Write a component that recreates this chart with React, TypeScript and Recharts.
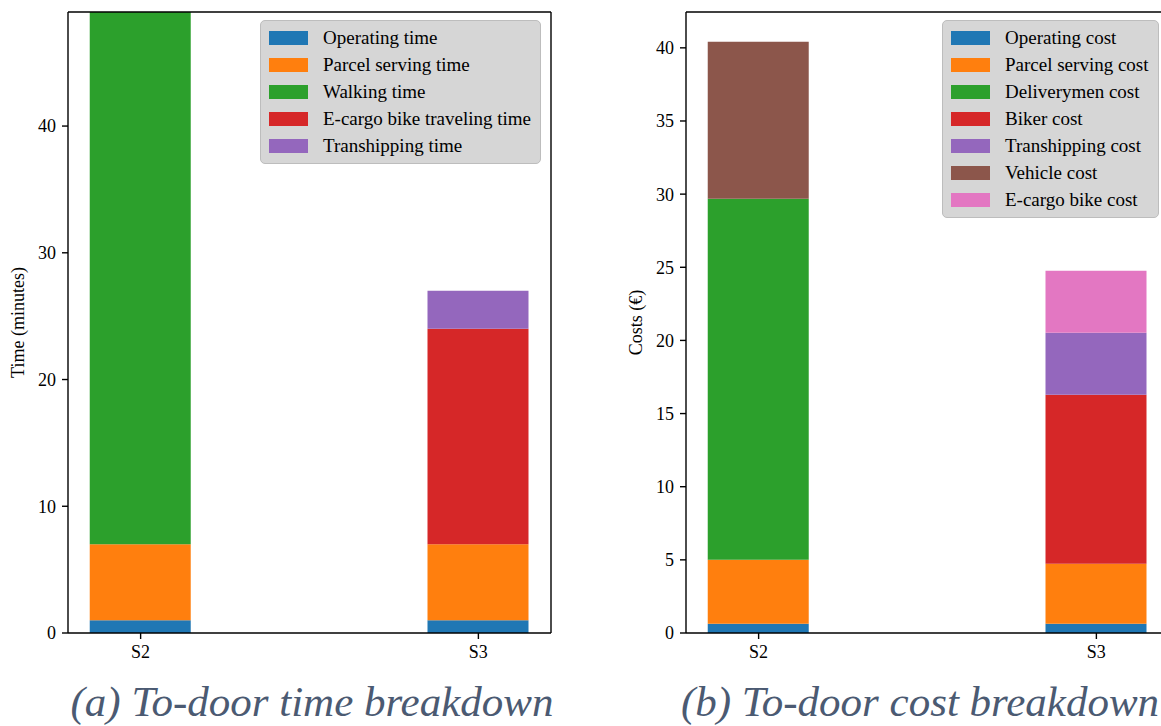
import React from 'react';
import {
  BarChart,
  Bar,
  XAxis,
  YAxis,
  Legend,
} from 'recharts';

// scenarios on the x axis
const categories = ['S2', 'S3'];

// (a) to-door time breakdown, minutes
const operatingTime = [1, 1];
const parcelServingTime = [6, 6];
const walkingTime = [42, 0];
const eCargoTravelTime = [0, 17];
const transhippingTime = [0, 3];
const timeTicks = [0, 10, 20, 30, 40];

// (b) to-door cost breakdown, euro
const operatingCost = [0.64, 0.64];
const parcelServingCost = [4.37, 4.1];
const deliverymenCost = [24.68, 0];
const bikerCost = [0, 11.55];
const transhippingCost = [0, 4.24];
const vehicleCost = [10.73, 0];
const eCargoBikeCost = [0, 4.23];
const costTicks = [0, 5, 10, 15, 20, 25, 30, 35, 40];

const FONT = '"Liberation Serif", "Times New Roman", serif';
const X_DOMAIN: [number, number] = [-0.215, 1.215];
const PLOT_W = 483;
const BAR_PX = Math.round((0.3 * PLOT_W) / (X_DOMAIN[1] - X_DOMAIN[0]));

const timeSeries = [
  { key: 'operating', name: 'Operating time', color: '#1f77b4', values: operatingTime },
  { key: 'parcel', name: 'Parcel serving time', color: '#ff7f0e', values: parcelServingTime },
  { key: 'walking', name: 'Walking time', color: '#2ca02c', values: walkingTime },
  { key: 'ecargo', name: 'E-cargo bike traveling time', color: '#d62728', values: eCargoTravelTime },
  { key: 'tranship', name: 'Transhipping time', color: '#9467bd', values: transhippingTime },
];

const costSeries = [
  { key: 'operating', name: 'Operating cost', color: '#1f77b4', values: operatingCost },
  { key: 'parcel', name: 'Parcel serving cost', color: '#ff7f0e', values: parcelServingCost },
  { key: 'delivery', name: 'Deliverymen cost', color: '#2ca02c', values: deliverymenCost },
  { key: 'biker', name: 'Biker cost', color: '#d62728', values: bikerCost },
  { key: 'tranship', name: 'Transhipping cost', color: '#9467bd', values: transhippingCost },
  { key: 'vehicle', name: 'Vehicle cost', color: '#8c564b', values: vehicleCost },
  { key: 'ecargo', name: 'E-cargo bike cost', color: '#e377c2', values: eCargoBikeCost },
];

type Series = { key: string; name: string; color: string; values: number[] };

const buildRows = (series: Series[]) =>
  categories.map((name, i) => {
    const row: Record<string, any> = { name, pos: i };
    series.forEach((s) => {
      row[s.key] = s.values[i];
    });
    return row;
  });

// legend keeps the plotting order (recharts sorts payload by default)
const BoxLegend = ({ series }: { series: Series[] }) => (
  <div
    style={{
      background: '#d6d6d6',
      border: '1px solid #bdbdbd',
      borderRadius: 5,
      padding: '3px 9px 4px 8px',
      fontFamily: FONT,
      fontSize: 19,
      color: '#000',
    }}
  >
    {series.map((s) => (
      <div key={s.key} style={{ display: 'flex', alignItems: 'center', height: 27 }}>
        <div style={{ width: 39, height: 14, background: s.color, marginRight: 15 }} />
        <span style={{ whiteSpace: 'nowrap' }}>{s.name}</span>
      </div>
    ))}
  </div>
);

const axisTitle = (text: string, x: number) => (props: any) => {
  const vb = props.viewBox || { y: 12, height: 621 };
  const cy = vb.y + vb.height / 2;
  return (
    <text
      x={x}
      y={cy}
      transform={`rotate(-90 ${x} ${cy})`}
      textAnchor="middle"
      dominantBaseline="central"
      fontSize={18}
      fontFamily={FONT}
      fill="#000"
    >
      {text}
    </text>
  );
};

const tickStyle = { fill: '#000', fontSize: 18, fontFamily: FONT };
const axisStroke = { stroke: '#000', strokeWidth: 1.4 };

interface StackPanelProps {
  series: Series[];
  yMax: number;
  ticks: number[];
  yLabel: string;
  labelX: number;
  legendLeft: number;
}

function StackPanel({ series, yMax, ticks, yLabel, labelX, legendLeft }: StackPanelProps) {
  const data = buildRows(series);
  return (
    <BarChart
      width={570}
      height={680}
      data={data}
      margin={{ top: 11, right: 16, bottom: 17, left: 0 }}
    >
      <XAxis
        dataKey="pos"
        type="number"
        domain={X_DOMAIN}
        ticks={[0, 1]}
        tickFormatter={(v: number) => categories[v] ?? ''}
        allowDataOverflow
        height={30}
        tick={tickStyle}
        tickSize={6}
        tickMargin={6}
        axisLine={axisStroke}
        tickLine={axisStroke}
      />
      <XAxis
        xAxisId="top"
        orientation="top"
        type="number"
        domain={X_DOMAIN}
        height={1}
        tick={false}
        tickLine={false}
        axisLine={axisStroke}
      />
      <YAxis
        type="number"
        domain={[0, yMax]}
        ticks={ticks}
        allowDataOverflow
        width={70}
        tick={tickStyle}
        tickSize={6}
        tickMargin={6}
        axisLine={axisStroke}
        tickLine={axisStroke}
        label={{ content: axisTitle(yLabel, labelX) }}
      />
      <YAxis
        yAxisId="right"
        orientation="right"
        type="number"
        domain={[0, yMax]}
        width={1}
        tick={false}
        tickLine={false}
        axisLine={axisStroke}
      />
      {series.map((s) => (
        <Bar
          key={s.key}
          dataKey={s.key}
          name={s.name}
          stackId="a"
          fill={s.color}
          barSize={BAR_PX}
          isAnimationActive={false}
        />
      ))}
      <Legend
        layout="vertical"
        align="center"
        verticalAlign="middle"
        content={() => <BoxLegend series={series} />}
        wrapperStyle={{ top: 20, left: legendLeft, width: 'auto', height: 'auto' }}
      />
    </BarChart>
  );
}

export default function App() {
  return (
    <div
      style={{
        position: 'fixed',
        left: 0,
        top: 0,
        width: 1161,
        height: 726,
        overflow: 'hidden',
        background: '#fff',
        fontFamily: FONT,
      }}
    >
      <div style={{ position: 'absolute', left: -2, top: 0 }}>
        <StackPanel
          series={timeSeries}
          yMax={49}
          ticks={timeTicks}
          yLabel="Time (minutes)"
          labelX={20}
          legendLeft={262}
        />
      </div>
      <div style={{ position: 'absolute', left: 616, top: 0 }}>
        <StackPanel
          series={costSeries}
          yMax={42.45}
          ticks={costTicks}
          yLabel="Costs (€)"
          labelX={20}
          legendLeft={326}
        />
      </div>
      <svg
        width={1161}
        height={726}
        style={{ position: 'absolute', left: 0, top: 0, pointerEvents: 'none' }}
      >
        <text
          x={312}
          y={716}
          textAnchor="middle"
          fontSize={43}
          fontStyle="italic"
          fontFamily={FONT}
          fill="#4b5a72"
        >
          (a) To-door time breakdown
        </text>
        <text
          x={920}
          y={716}
          textAnchor="middle"
          fontSize={43}
          fontStyle="italic"
          fontFamily={FONT}
          fill="#4b5a72"
        >
          (b) To-door cost breakdown
        </text>
      </svg>
    </div>
  );
}
